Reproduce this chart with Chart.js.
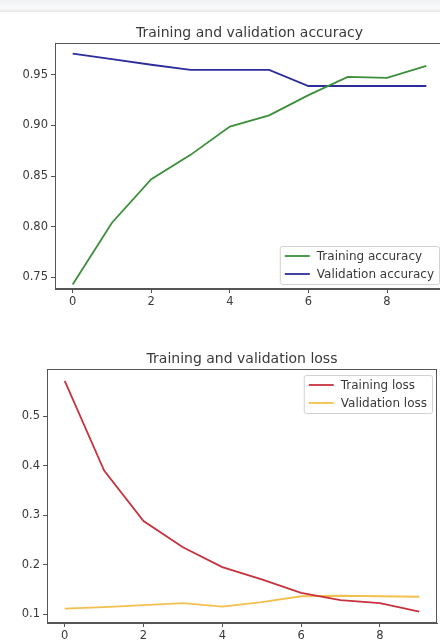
<!DOCTYPE html>
<html>
<head>
<meta charset="utf-8">
<script src="https://cdn.jsdelivr.net/npm/chart.js@4"></script>
<style>
html, body { margin: 0; padding: 0; width: 440px; height: 642px; overflow: hidden; background: #fff; }
#band { position: absolute; left: 0; top: 0; width: 440px; height: 12px; background: linear-gradient(#f1f2f4, #fafafa 70%, #e6e6e6); }
.wrap { position: absolute; left: 0; width: 440px; overflow: hidden; }
</style>
</head>
<body>
<div id="band"></div>
<div class="wrap" style="top:0;height:312px"><canvas id="acc" width="460" height="312"></canvas></div>
<div class="wrap" style="top:320px;height:322px"><canvas id="loss" width="440" height="322"></canvas></div>
<script>
const epochs = [0, 1, 2, 3, 4, 5, 6, 7, 8, 9];
const xTicks = [0, 2, 4, 6, 8];

const trainAcc = [0.743, 0.804, 0.847, 0.871, 0.899, 0.910, 0.930, 0.948, 0.947, 0.959];
const valAcc = [0.971, 0.9655, 0.960, 0.955, 0.955, 0.955, 0.939, 0.939, 0.939, 0.939];
const accTicks = [0.75, 0.80, 0.85, 0.90, 0.95];

const trainLoss = [0.571, 0.390, 0.288, 0.235, 0.195, 0.170, 0.143, 0.128, 0.122, 0.105];
const valLoss = [0.111, 0.114, 0.118, 0.122, 0.115, 0.124, 0.136, 0.137, 0.136, 0.135];
const lossTicks = [0.1, 0.2, 0.3, 0.4, 0.5];

const FONT = "'DejaVu Sans', sans-serif";
const TEXT = '#3a3a3a';

// matplotlib-like frame, title over the axes and legend inside them
const mplBox = {
    id: 'mplBox',
    afterDraw(chart, args, opts) {
        const { ctx, chartArea: a } = chart;
        ctx.save();
        ctx.strokeStyle = '#555';
        ctx.lineWidth = 1;
        ctx.strokeRect(Math.round(a.left) + 0.5, Math.round(a.top) + 0.5, Math.round(a.width) - 1, Math.round(a.height) - 1);

        // title centred on the axes, not the canvas
        ctx.font = `14px ${FONT}`;
        ctx.fillStyle = TEXT;
        ctx.textAlign = 'center';
        ctx.textBaseline = 'alphabetic';
        ctx.fillText(opts.title, (a.left + a.right) / 2, a.top - 6);

        ctx.textAlign = 'left';
        ctx.font = `12px ${FONT}`;
        const sets = chart.data.datasets;
        const textW = Math.max(...sets.map(d => ctx.measureText(d.label).width));
        const rowH = 18;
        const w = 5 + 25 + 7 + textW + 5;
        const h = sets.length * rowH + 2;
        const x = a.right - 5 - w;
        const y = opts.corner === 'top' ? a.top + 6 : a.bottom - 5 - h;
        ctx.fillStyle = 'rgba(255,255,255,0.85)';
        ctx.strokeStyle = '#d2d2d2';
        ctx.beginPath();
        ctx.roundRect(x + 0.5, y + 0.5, w, h, 2);
        ctx.fill();
        ctx.stroke();
        ctx.textBaseline = 'middle';
        sets.forEach((d, i) => {
            const cy = y + 1 + rowH * i + rowH / 2;
            ctx.strokeStyle = d.borderColor;
            ctx.lineWidth = 1.8;
            ctx.beginPath();
            ctx.moveTo(x + 5, cy);
            ctx.lineTo(x + 30, cy);
            ctx.stroke();
            ctx.fillStyle = TEXT;
            ctx.fillText(d.label, x + 37, cy + 1);
        });
        ctx.restore();
    }
};

function makeChart(id, cfg) {
    const fixTicks = list => scale => { scale.ticks = list.map(v => ({ value: v })); };
    return new Chart(document.getElementById(id), {
        type: 'line',
        data: {
            datasets: cfg.series.map(s => ({
                label: s.label,
                data: epochs.map((e, i) => ({ x: e, y: s.values[i] })),
                borderColor: s.color,
                borderWidth: 1.8,
                pointRadius: 0,
                tension: 0,
                fill: false
            }))
        },
        options: {
            responsive: false,
            animation: false,
            devicePixelRatio: 1,
            layout: { padding: { left: 0, right: cfg.padRight, top: cfg.padTop, bottom: 0 } },
            plugins: {
                legend: { display: false },
                tooltip: { enabled: false },
                title: { display: false },
                mplBox: { corner: cfg.legendCorner, title: cfg.title }
            },
            scales: {
                x: {
                    type: 'linear',
                    min: -0.45,
                    max: 9.45,
                    afterBuildTicks: fixTicks(xTicks),
                    afterFit: s => { s.height = cfg.xHeight; },
                    grid: { drawOnChartArea: false, tickLength: 4, color: '#555' },
                    border: { color: '#555' },
                    ticks: { color: TEXT, padding: 2, maxRotation: 0, font: { family: FONT, size: 11.5 } }
                },
                y: {
                    min: cfg.yMin,
                    max: cfg.yMax,
                    afterBuildTicks: fixTicks(cfg.yTicks),
                    afterFit: s => { s.width = cfg.yWidth; },
                    grid: { drawOnChartArea: false, tickLength: 4, color: '#555' },
                    border: { color: '#555' },
                    ticks: {
                        color: TEXT,
                        padding: 3,
                        font: { family: FONT, size: 11.5 },
                        callback: v => v.toFixed(cfg.decimals)
                    }
                }
            }
        },
        plugins: [mplBox]
    });
}

makeChart('acc', {
    title: 'Training and validation accuracy',
    series: [
        { label: 'Training accuracy', values: trainAcc, color: '#3b8f3b' },
        { label: 'Validation accuracy', values: valAcc, color: '#2c2c9c' }
    ],
    yTicks: accTicks,
    yMin: 0.7385,
    yMax: 0.9815,
    decimals: 2,
    yWidth: 55,
    xHeight: 23,
    padTop: 43,
    padRight: 16,
    legendCorner: 'bottom'
});

makeChart('loss', {
    title: 'Training and validation loss',
    series: [
        { label: 'Training loss', values: trainLoss, color: '#c8323e' },
        { label: 'Validation loss', values: valLoss, color: '#f2c04e' }
    ],
    yTicks: lossTicks,
    yMin: 0.082,
    yMax: 0.595,
    decimals: 1,
    yWidth: 47,
    xHeight: 19,
    padTop: 49,
    padRight: 3,
    legendCorner: 'top'
});
</script>
</body>
</html>
